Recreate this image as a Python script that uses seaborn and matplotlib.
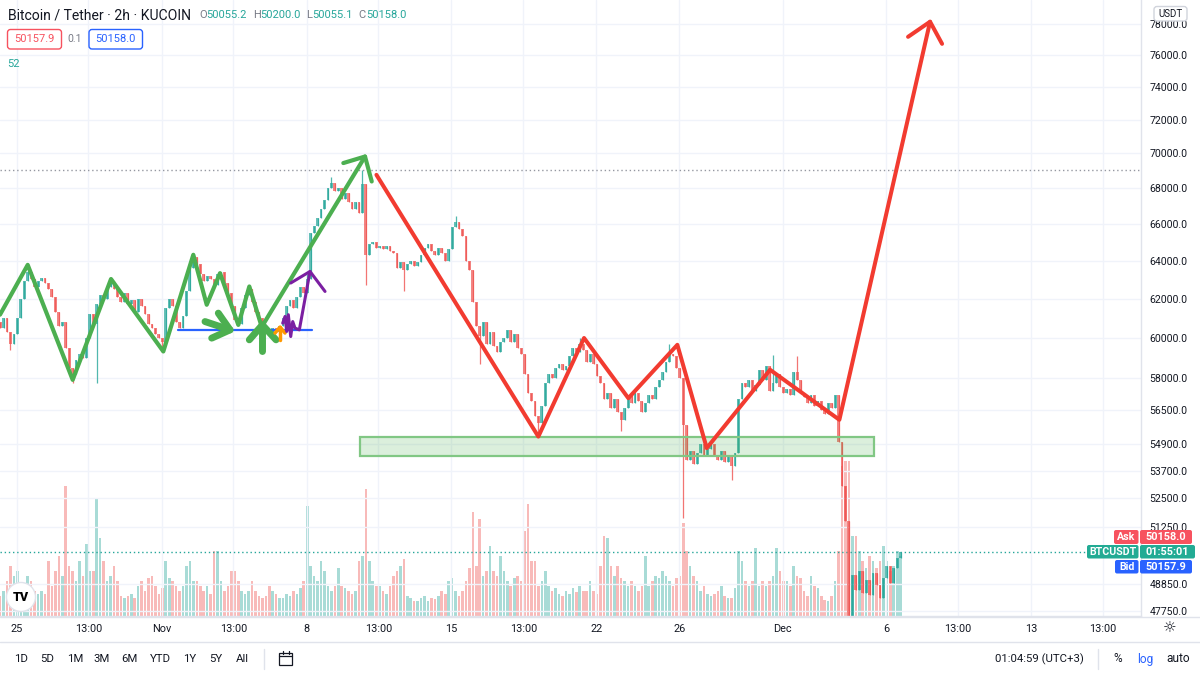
import numpy as np
import pandas as pd
import matplotlib
matplotlib.use("Agg")
import matplotlib.pyplot as plt
import seaborn as sns
from matplotlib.patches import Rectangle, FancyBboxPatch, Circle
from matplotlib.ticker import FixedLocator, FixedFormatter, NullLocator

# ---------------- data ----------------
first_day = -0.8            # days after 25 Oct 00:00 (first 4h candle)
candle_step = 1 / 6         # 4 hours
first_open = 60800

close = [
    60500, 61000, 60300, 59700, 60200, 61000,
    62000, 62900, 63400, 63000, 62600, 62900,
    63100, 62800, 62500, 62100, 61300, 60600,
    60800, 59500, 58500, 58200, 58900, 59200,
    59000, 60000, 61200, 60700, 61700, 62200,
    62000, 62600, 62900, 62500, 62100, 61800,
    62300, 61700, 61900, 61300, 62000, 61600,
    61200, 60700, 60500, 60200, 60000, 59800,
    61500, 62000, 61600, 60800, 60500, 61100,
    62400, 63600, 64200, 63800, 63300, 62900,
    63200, 63000, 62700, 63300, 63400, 62800,
    62300, 61600, 60900, 60700, 61500, 62200,
    62500, 61800, 61300, 61000, 60600, 60300,
    60100, 60500, 60300, 60600, 61000, 61600,
    61900, 61500, 62100, 62600, 62300, 63000,
    65500, 65900, 66300, 66800, 67300, 68000,
    68300, 67800, 68000, 67400, 67700, 67200,
    66800, 67200, 66600, 68200, 64300, 64900,
    65000, 64700, 64800, 64600, 64800, 64500,
    64400, 63600, 63900, 63500, 63800, 64000,
    63700, 63900, 64300, 64700, 64900, 64500,
    64300, 64700, 64400, 64000, 64600, 65800,
    66100, 65700, 65300, 64000, 63500, 61800,
    60600, 60100, 60800, 59700, 60300, 59600,
    59300, 59800, 60000, 60400, 59800, 60200,
    59500, 59200, 58200, 57300, 56900, 56200,
    55900, 56700, 57800, 58200, 58000, 58500,
    58700, 58400, 58600, 59100, 59500, 59300,
    59700, 59400, 58800, 59200, 58700, 58100,
    57800, 57000, 57300, 56600, 57000, 56400,
    56000, 56600, 57200, 56800, 57300, 56900,
    56400, 56800, 57200, 57000, 57600, 57900,
    58300, 58800, 59200, 59100, 58500, 58000,
    55800, 54200, 54600, 54000, 54500, 54900,
    54400, 54700, 54900, 54400, 54200, 54600,
    54100, 54400, 53900, 54500, 57000, 57800,
    57600, 57900, 57400, 57700, 58400, 57900,
    58600, 57400, 57800, 58200, 57600, 57300,
    57500, 57200, 58300, 57900, 57300, 57100,
    56800, 57200, 56700, 56900, 56500, 56300,
    56800, 56600, 57200, 55000, 53000, 51500,
    47000, 49200, 48600, 49400, 48500, 49000,
    48400, 49300, 48800, 48300, 49100, 49600,
    48900, 49500, 49900, 50158,
]

volume = [
    200, 250, 350, 500, 400, 450,
    300, 250, 400, 350, 250, 220,
    250, 220, 550, 300, 450, 600,
    400, 1300, 500, 450, 350, 550,
    400, 720, 450, 450, 1180, 780,
    550, 350, 400, 500, 350, 200,
    180, 200, 220, 180, 300, 350,
    250, 380, 400, 300, 220, 280,
    550, 380, 350, 300, 250, 300,
    500, 550, 350, 350, 300, 250,
    300, 220, 650, 650, 350, 250,
    300, 450, 450, 350, 250, 220,
    250, 350, 250, 200, 180, 200,
    300, 250, 220, 180, 180, 220,
    200, 250, 220, 280, 350, 1100,
    500, 400, 350, 550, 450, 300,
    250, 300, 480, 300, 280, 250,
    220, 250, 550, 600, 1270, 550,
    350, 300, 300, 250, 220, 300,
    400, 450, 500, 570, 200, 180,
    150, 150, 180, 200, 150, 180,
    170, 200, 250, 220, 350, 380,
    250, 200, 250, 350, 480, 1040,
    500, 970, 400, 450, 700, 450,
    400, 600, 450, 350, 300, 380,
    400, 350, 850, 1120, 550, 550,
    300, 350, 450, 300, 250, 280,
    220, 200, 250, 220, 280, 240,
    300, 250, 250, 350, 250, 220,
    500, 800, 780, 500, 400, 500,
    380, 350, 300, 350, 300, 250,
    300, 600, 300, 350, 400, 380,
    450, 400, 350, 300, 380, 400,
    930, 650, 500, 400, 350, 250,
    300, 220, 200, 220, 250, 300,
    200, 180, 180, 280, 650, 550,
    350, 300, 350, 680, 300, 350,
    300, 350, 400, 680, 450, 350,
    350, 300, 500, 400, 380, 250,
    200, 400, 300, 280, 200, 160,
    150, 200, 350, 650, 1500, 1550,
    1550, 800, 800, 650, 550, 480,
    600, 550, 480, 550, 700, 550,
    450, 500, 650, 600,
]

wick_high = {8: 63700, 56: 64400, 89: 63300, 96: 68600, 105: 69000,
             132: 66400, 168: 60000, 194: 59700, 224: 59150, 231: 59100}
wick_low = {3: 59400, 21: 57800, 28: 57800, 47: 59300, 106: 62700,
            117: 62400, 139: 58700, 156: 55400, 180: 55500, 198: 51600,
            212: 53300, 246: 42000}

price_ticks = [78000, 76000, 74000, 72000, 70000, 68000, 66000, 64000, 62000,
               60000, 58000, 56500, 54900, 53700, 52500, 51250, 48850, 47750]
time_ticks = [0, 3.46, 7, 10.46, 14, 17.47, 21, 24.47, 28, 32, 37, 42, 45.47, 49, 52.48]
time_labels = ["25", "13:00", "Nov", "13:00", "8", "13:00", "15", "13:00",
               "22", "26", "Dec", "6", "13:00", "13", "13:00"]

ath_price = 69000
last_price = 50158.0

# drawings (day, price)
green_zig_d = [-0.807, 0.531, 2.705, 4.556, 7.082, 8.531, 9.179, 9.821,
               10.705, 11.237, 11.836, 16.826]
green_zig_p = [61170, 63770, 57930, 63020, 59320, 64310, 61680, 63330,
               60650, 62630, 60550, 69810]
green_head_d = [15.778, 16.826, 17.15]
green_head_p = [69430, 69810, 68370]
red_zig_d = [17.377, 25.198, 27.406, 29.546, 31.913, 33.333, 36.391, 39.739, 44.121]
red_zig_p = [68750, 55250, 59990, 57050, 59650, 54720, 58420, 56030, 78130]
red_head_d = [43.058, 44.121, 44.7]
red_head_p = [77150, 78130, 76700]
zone_d = [16.585, 41.43]
zone_p = [54370, 55250]
blue_d = [7.792, 14.28]
blue_p = [60390, 60390]
garrow1_stem_d, garrow1_stem_p = [9.097, 10.304], [60820, 60400]
garrow1_head_d, garrow1_head_p = [9.739, 10.304, 9.42], [61250, 60400, 59985]
garrow2_head_d, garrow2_head_p = [11.237, 11.865, 12.527], [59900, 60650, 59900]
garrow2_stem_d, garrow2_stem_p = [11.865, 11.865], [60650, 59350]
oarrow_head_d, oarrow_head_p = [12.478, 12.72, 12.961], [60240, 60540, 60240]
oarrow_stem_d, oarrow_stem_p = [12.72, 12.72], [60540, 59900]
purple_d = [12.85, 12.961, 13.043, 13.121, 13.237, 13.333, 13.444, 13.652, 14.169]
purple_p = [60740, 61080, 60320, 61170, 60065, 60820, 60490, 60400, 63420]
purple_head_d = [13.237, 14.169, 14.894]
purple_head_p = [62810, 63420, 62370]

# ---------------- build table ----------------
assert len(close) == len(volume)
n = len(close)
t = first_day + np.arange(n) * candle_step
opens = [first_open] + close[:-1]
high = [max(o, c) for o, c in zip(opens, close)]
low = [min(o, c) for o, c in zip(opens, close)]
for k, v in wick_high.items():
    high[k] = v
for k, v in wick_low.items():
    low[k] = v
df = pd.DataFrame({"t": t, "open": opens, "close": close, "high": high,
                   "low": low, "vol": volume})
df["dir"] = np.where(df["close"] >= df["open"], "up", "down")

UP, DOWN = "#26a69a", "#ef5350"
TXT = "#131722"

sns.set_theme(style="white")
plt.rcParams['font.family'] = ['Roboto', 'DejaVu Sans']

W, H = 1200, 675
fig = plt.figure(figsize=(12, 6.75), dpi=100)
fig.patch.set_facecolor("white")
rect = [0, 59 / H, 1141 / W, 616 / H]
xlim = (-0.807, 54.31)

# volume pane (underneath)
axv = fig.add_axes(rect)
sns.barplot(data=df, x="t", y="vol", hue="dir", hue_order=["up", "down"],
            palette={"up": UP, "down": DOWN}, native_scale=True, dodge=False,
            width=0.75, errorbar=None, saturation=1, legend=False, ax=axv,
            alpha=0.4, linewidth=0, edgecolor="none")
axv.set_xlim(*xlim)
axv.set_ylim(0, 6160)
axv.set_axis_off()

# price pane
ax = fig.add_axes(rect)
ax.patch.set_visible(False)
ax.set_yscale("log")
cols = [UP if d == "up" else DOWN for d in df["dir"]]
body_lo = np.minimum(df["open"], df["close"])
body_h = np.maximum(np.abs(df["close"] - df["open"]), 40)
ax.vlines(df["t"], df["low"], df["high"], colors=cols, lw=0.9, alpha=0.8, zorder=2)
ax.bar(df["t"], body_h, bottom=body_lo, width=0.82 * candle_step, color=cols,
       alpha=0.7, linewidth=0, zorder=2)

ax.set_xlim(*xlim)
ax.set_ylim(47560, 79560)

# reference lines
ax.axhline(ath_price, color="#9598a1", lw=1, ls=(0, (1, 2)), zorder=1)
ax.axhline(last_price, xmax=1087 / 1141, color=UP, lw=1, ls=(0, (1, 2)), zorder=1)

# drawings
ax.add_patch(Rectangle((zone_d[0], zone_p[0]), zone_d[1] - zone_d[0],
                       zone_p[1] - zone_p[0], facecolor=(0.298, 0.686, 0.314, 0.2),
                       edgecolor="#81c784", lw=1.6, zorder=3))
lk = dict(sort=False, estimator=None, ax=ax, legend=False,
          solid_capstyle="round", solid_joinstyle="round", zorder=5)
sns.lineplot(x=blue_d, y=blue_p, color="#2962ff", lw=1.6, **lk)
sns.lineplot(x=green_zig_d, y=green_zig_p, color="#4caf50", lw=3.0, **lk)
sns.lineplot(x=green_head_d, y=green_head_p, color="#4caf50", lw=3.0, **lk)
sns.lineplot(x=red_zig_d, y=red_zig_p, color="#f23b30", lw=2.9, **lk)
sns.lineplot(x=red_head_d, y=red_head_p, color="#f23b30", lw=2.9, **lk)
sns.lineplot(x=garrow1_stem_d, y=garrow1_stem_p, color="#4caf50", lw=5, **lk)
sns.lineplot(x=garrow1_head_d, y=garrow1_head_p, color="#4caf50", lw=5, **lk)
sns.lineplot(x=garrow2_stem_d, y=garrow2_stem_p, color="#4caf50", lw=5, **lk)
sns.lineplot(x=garrow2_head_d, y=garrow2_head_p, color="#4caf50", lw=5, **lk)
sns.lineplot(x=oarrow_stem_d, y=oarrow_stem_p, color="#ff9800", lw=2.5, **lk)
sns.lineplot(x=oarrow_head_d, y=oarrow_head_p, color="#ff9800", lw=2.5, **lk)
sns.lineplot(x=purple_d, y=purple_p, color="#7b1fa2", lw=2.2, **lk)
sns.lineplot(x=purple_head_d, y=purple_head_p, color="#7b1fa2", lw=2.2, **lk)

# axes styling
ax.yaxis.set_major_locator(FixedLocator(price_ticks))
ax.yaxis.set_major_formatter(FixedFormatter([f"{v:.1f}" for v in price_ticks]))
ax.yaxis.set_minor_locator(NullLocator())
ax.yaxis.tick_right()
ax.set_xticks(time_ticks)
ax.set_xticklabels(time_labels)
ax.tick_params(axis="y", length=0, pad=6, labelsize=7.6, labelcolor=TXT)
ax.tick_params(axis="x", length=0, pad=6, labelsize=7.8, labelcolor=TXT)
ax.grid(True, color="#f0f3fa", lw=1)
ax.set_axisbelow(True)
ax.set_xlabel("")
ax.set_ylabel("")
for s in ["left", "top"]:
    ax.spines[s].set_visible(False)
for s in ["right", "bottom"]:
    ax.spines[s].set_color("#e0e3eb")
    ax.spines[s].set_linewidth(1)

# ---------------- UI chrome (pixel coords) ----------------
ui = fig.add_axes([0, 0, 1, 1], zorder=10)
ui.set_xlim(0, W)
ui.set_ylim(H, 0)
ui.axis("off")
ui.patch.set_visible(False)

def box(x0, y0, x1, y1, fc, ec, lw=1, r=2):
    ui.add_patch(FancyBboxPatch((x0, y0), x1 - x0, y1 - y0,
                                boxstyle=f"round,pad=0,rounding_size={r}",
                                fc=fc, ec=ec, lw=lw))

ui.plot([0, W], [616.5, 616.5], color="#e0e3eb", lw=1)
ui.plot([0, W], [641.5, 641.5], color="#e0e3eb", lw=1)

ui.text(8, 15, "Bitcoin / Tether · 2h · KUCOIN", fontsize=10.1, color=TXT, va="center")
for xx, s, c in [(199, "O", "#787b86"), (206.5, "50055.2", UP),
                 (253, "H", "#787b86"), (260.5, "50200.0", UP),
                 (306.5, "L", "#787b86"), (312.5, "50055.1", UP),
                 (358, "C", "#787b86"), (366.5, "50158.0", UP)]:
    ui.text(xx, 15, s, fontsize=8.0, color=c, va="center")
box(7.5, 29.5, 61.5, 49, "white", "#f7525f", 1, 3)
ui.text(34.5, 39.5, "50157.9", fontsize=8, color="#f7525f", ha="center", va="center")
ui.text(75, 39.5, "0.1", fontsize=7.5, color="#787b86", ha="center", va="center")
box(89, 29.5, 142.5, 49, "white", "#2962ff", 1, 3)
ui.text(115.8, 39.5, "50158.0", fontsize=8, color="#2962ff", ha="center", va="center")
ui.text(7, 64, "52", fontsize=8, color=UP, va="center")

# price scale badge
box(1154, 6.5, 1187, 21, "white", "#d1d4dc", 1, 3)
ui.text(1170.5, 14, "USDT", fontsize=7, color=TXT, ha="center", va="center")

# ask / last / bid labels
box(1114, 530, 1138.5, 544, "#f7525f", "none", 0, 2)
ui.text(1126.3, 537.2, "Ask", fontsize=7.6, color="white", ha="center", va="center", fontweight="bold")
box(1140, 530, 1192, 544, "#f7525f", "none", 0, 2)
ui.text(1166, 537.2, "50158.0", fontsize=7.8, color="white", ha="center", va="center", fontweight="bold")
box(1087, 545, 1138.5, 558.5, "#22ab94", "none", 0, 2)
ui.text(1112.8, 551.8, "BTCUSDT", fontsize=7.6, color="white", ha="center", va="center", fontweight="bold")
box(1140, 545, 1195, 558.5, "#22ab94", "none", 0, 2)
ui.text(1167.5, 551.8, "01:55:01", fontsize=7.8, color="white", ha="center", va="center", fontweight="bold")
box(1115, 560, 1138.5, 573.5, "#2962ff", "none", 0, 2)
ui.text(1126.8, 566.8, "Bid", fontsize=7.6, color="white", ha="center", va="center", fontweight="bold")
box(1140, 560, 1192, 573.5, "#2962ff", "none", 0, 2)
ui.text(1166, 566.8, "50157.9", fontsize=7.8, color="white", ha="center", va="center", fontweight="bold")

# settings icon
ui.text(1170, 628.5, "☼", fontsize=11, color=TXT, ha="center", va="center", family="DejaVu Sans")

# logo
ui.add_patch(Circle((21, 597), 14.5, fc="white", ec="#e0e3eb", lw=1, zorder=5))
ui.text(21, 597.5, "TV", fontsize=9, color="black", ha="center", va="center",
        fontweight="heavy", zorder=6)

# bottom toolbar
for xx, s in [(21, "1D"), (47, "5D"), (75, "1M"), (101.5, "3M"), (129.5, "6M"),
              (160, "YTD"), (189.6, "1Y"), (215.7, "5Y"), (242, "All")]:
    ui.text(xx, 659, s, fontsize=8.2, color=TXT, ha="center", va="center")
ui.plot([264, 264], [649, 669], color="#e0e3eb", lw=1)
ui.add_patch(Rectangle((279, 652.5), 13, 12, fc="none", ec=TXT, lw=0.9))
ui.plot([279, 292], [656, 656], color=TXT, lw=0.9)
ui.plot([282.5, 282.5], [650.5, 653.5], color=TXT, lw=0.9)
ui.plot([288.5, 288.5], [650.5, 653.5], color=TXT, lw=0.9)
ui.text(1083.5, 659, "01:04:59 (UTC+3)", fontsize=8.2, color=TXT, ha="right", va="center")
ui.plot([1098, 1098], [649, 669], color="#e0e3eb", lw=1)
ui.text(1118, 659, "%", fontsize=8.6, color=TXT, ha="center", va="center")
ui.text(1145.5, 659, "log", fontsize=8.6, color="#2962ff", ha="center", va="center")
ui.text(1178, 659, "auto", fontsize=8.6, color=TXT, ha="center", va="center")

fig.savefig("out.png", dpi=100, facecolor="white")
